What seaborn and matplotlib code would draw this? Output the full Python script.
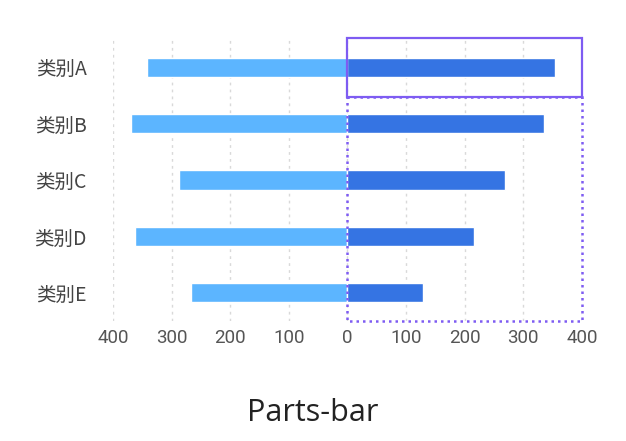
import numpy as np
import pandas as pd
import seaborn as sns
import matplotlib.pyplot as plt
from matplotlib.patches import Rectangle

categories = ['类别A', '类别B', '类别C', '类别D', '类别E']
left_values = [342, 369, 288, 363, 267]
right_values = [354, 336, 269, 215, 128]
ticks = [-400, -300, -200, -100, 0, 100, 200, 300, 400]
tick_labels = ['400', '300', '200', '100', '0', '100', '200', '300', '400']

sns.set_theme(style='white')
plt.rcParams['font.family'] = ['Noto Sans CJK SC', 'DejaVu Sans']

df = pd.DataFrame({'cat': categories,
                   'left': [-v for v in left_values],
                   'right': right_values})

fig = plt.figure(figsize=(6.26, 4.41), dpi=100)
ax = fig.add_axes([0.1805, 0.272, 0.7492, 0.6394])

sns.barplot(data=df, x='left', y='cat', color='#5CB5FF', saturation=1,
            width=0.34, orient='h', ax=ax, zorder=3)
sns.barplot(data=df, x='right', y='cat', color='#3574E3', saturation=1,
            width=0.34, orient='h', ax=ax, zorder=3)

ax.set_xlim(-400, 400)
ax.set_ylim(4.5, -0.5)
ax.set_xticks(ticks, labels=tick_labels, fontfamily='Roboto', fontsize=13.5)
for t in ticks:
    ax.axvline(t, color='#d9d9d9', lw=1, ls=(0, (2, 3)), zorder=1)
for s in ax.spines.values():
    s.set_visible(False)
ax.set_xlabel('')
ax.set_ylabel('')
ax.tick_params(axis='x', length=0, pad=6, labelcolor='#555555')
ax.tick_params(axis='y', length=0, pad=19, labelsize=14, labelcolor='#444444')

# highlight boxes
ax.add_patch(Rectangle((0, -0.52), 400, 1.04, fill=False, ec='#7E5CF2',
                       lw=1.6, zorder=5, clip_on=False))
ax.add_patch(Rectangle((0, 0.52), 400, 3.98, fill=False, ec='#7E5CF2',
                       lw=1.8, ls=(0, (1, 1.6)), zorder=5, clip_on=False))

fig.text(0.5, 0.063, 'Parts-bar', ha='center', va='center',
         fontsize=22, color='#222222', family=['Open Sans', 'DejaVu Sans'])

plt.savefig('out.png', dpi=100)
